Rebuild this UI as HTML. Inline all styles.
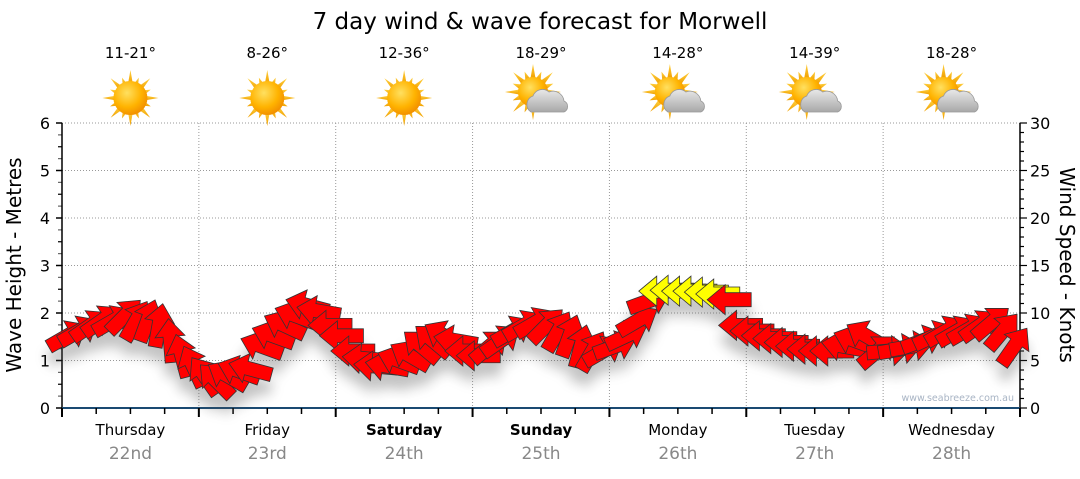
<!DOCTYPE html>
<html><head><meta charset="utf-8"><style>
body{margin:0;background:#fff;width:1080px;height:475px;overflow:hidden;font-family:"DejaVu Sans","Liberation Sans",sans-serif}
</style></head><body>
<svg id="chart" width="1080" height="475" viewBox="0 0 1080 475" xmlns="http://www.w3.org/2000/svg" style="font-family:'DejaVu Sans','Liberation Sans',sans-serif">
<defs>
<filter id="sh" x="-50%" y="-50%" width="200%" height="200%"><feGaussianBlur stdDeviation="6"/></filter>
<radialGradient id="sunG" cx="40%" cy="35%" r="70%"><stop offset="0" stop-color="#ffe060"/><stop offset="0.6" stop-color="#ffb300"/><stop offset="1" stop-color="#f08a00"/></radialGradient>
<linearGradient id="rayG" x1="0" y1="0" x2="0" y2="1"><stop offset="0" stop-color="#ffd040"/><stop offset="1" stop-color="#f0a000"/></linearGradient>
<linearGradient id="cloudG" x1="0" y1="0" x2="0" y2="1"><stop offset="0" stop-color="#e8e8e8"/><stop offset="1" stop-color="#a8a8a8"/></linearGradient>
</defs>
<text x="540" y="29" font-size="23" text-anchor="middle" fill="#000">7 day wind &amp; wave forecast for Morwell</text>
<g id="grid"></g>
<g id="axes"></g>
<g id="weather"></g>
<g id="shadows" filter="url(#sh)" opacity="0.35"></g>
<g id="arrows"></g>
<text x="1014" y="401" font-size="9.5" text-anchor="end" fill="#a8b4c4">www.seabreeze.com.au</text>
<text transform="translate(21,265) rotate(-90)" font-size="20" text-anchor="middle" fill="#000">Wave Height - Metres</text>
<text transform="translate(1060,265) rotate(90)" font-size="20" text-anchor="middle" fill="#000">Wind Speed - Knots</text>
</svg>
<script>
const days=["Thursday","Friday","Saturday","Sunday","Monday","Tuesday","Wednesday"];
const dates=["22nd","23rd","24th","25th","26th","27th","28th"];
const boldDays=[false,false,true,true,false,false,false];
const temps=["11-21°","8-26°","12-36°","18-29°","14-28°","14-39°","18-28°"];
const cloudy=[false,false,false,true,true,true,true];
const waveTicks=[0,1,2,3,4,5,6];
const windTicks=[0,5,10,15,20,25,30];
const windSpeed=[7.6,8.1,8.7,9.2,9.2,9.7,9.2,9.2,8.7,7.1,5.5,4.4,3.4,2.9,3.4,3.9,4.1,6.5,7.6,8.7,9.7,10.8,10.2,8.7,7.6,6.0,5.2,4.4,4.4,5.0,5.5,6.5,7.1,7.6,7.1,6.0,5.5,6.5,7.1,8.1,8.7,9.0,8.7,8.1,7.6,6.5,6.0,6.0,6.5,7.6,9.2,11.3,12.3,12.4,12.3,12.3,12.2,12.0,11.4,8.7,8.1,7.6,7.3,6.9,6.5,6.2,6.0,6.0,6.5,7.1,7.6,6.0,6.0,6.2,6.5,7.1,7.6,8.1,8.1,8.3,8.7,9.0,8.1,6.5];
const windDir=[-30,-30,-35,-35,-30,-45,-60,-70,-80,-95,-105,-115,-125,-135,-150,-160,-165,-160,-160,-155,-160,-165,-170,-180,-180,-180,-175,-175,-170,-160,-150,-140,-140,-150,-170,-180,-180,-40,-35,-30,-30,-30,-45,-60,-70,-75,-60,-30,-20,-25,-30,-20,180,180,180,180,180,180,180,180,180,180,180,180,180,180,180,180,-170,-160,-150,-40,-5,-10,-10,-20,-25,-30,-30,-30,-35,-40,-50,-55];
const X0=62,X1=1020,Y0=408,Y6=123;
const ns="http://www.w3.org/2000/svg";
function el(t,a,p){const e=document.createElementNS(ns,t);for(const k in a)e.setAttribute(k,a[k]);p.appendChild(e);return e;}
const yWave=v=>Y0-(v/6)*(Y0-Y6);
const yWind=v=>Y0-(v/30)*(Y0-Y6);
const dayW=(X1-X0)/7;
const xHour=h=>X0+h*(X1-X0)/168;
const grid=document.getElementById('grid'),axes=document.getElementById('axes'),wx=document.getElementById('weather');
waveTicks.forEach(v=>{
 if(v>0){const g=el('line',{x1:X0,x2:X1,y1:yWave(v),y2:yWave(v),stroke:'#999','stroke-dasharray':'1,2'},grid);
 
 }
 const t=el('text',{x:X0-12,y:yWave(v)+6,'font-size':16,'text-anchor':'end',fill:'#000'},axes);t.textContent=v;
 
 
});
for(let i=0;i<=24;i++){const y=Y0-i*(Y0-Y6)/24;el('line',{x1:X0-(i%4==0?6:4),x2:X0,y1:y,y2:y,stroke:i%2?'#666':'#000','stroke-width':i%4==0?1.5:1.2},axes);}
windTicks.forEach(v=>{
 const t=el('text',{x:X1+10,y:yWind(v)+6,'font-size':16,fill:'#000'},axes);t.textContent=v;
 
 
});
for(let i=0;i<=30;i++){const y=yWind(i);el('line',{x1:X1,x2:X1+(i%5==0?7:4),y1:y,y2:y,stroke:'#000','stroke-width':1.2},axes);}
el('line',{x1:X0,x2:X0,y1:Y6,y2:Y0,stroke:'#000','stroke-width':1.5},axes);
el('line',{x1:X1,x2:X1,y1:Y6,y2:Y0,stroke:'#000','stroke-width':1.5},axes);
el('line',{x1:X0,x2:X1,y1:Y0,y2:Y0,stroke:'#1a4a72','stroke-width':2},axes);
for(let h=0;h<=168;h+=6){const x=xHour(h);el('line',{x1:x,x2:x,y1:Y0,y2:Y0+(h%24==0?9:6),stroke:'#000','stroke-width':h%24==0?2:1.5},axes);}
days.forEach((d,i)=>{
 const cx=X0+dayW*(i+0.5);
 if(i>0){const g=el('line',{x1:X0+dayW*i,x2:X0+dayW*i,y1:Y6,y2:Y0,stroke:'#999','stroke-dasharray':'1,2'},grid);
 
 }
 const t=el('text',{x:cx,y:435,'font-size':15,'text-anchor':'middle',fill:'#000','font-weight':boldDays[i]?'bold':'normal'},axes);t.textContent=d;
 
 
 const t2=el('text',{x:cx,y:459,'font-size':17,'text-anchor':'middle',fill:'#888'},axes);t2.textContent=dates[i];
 
 
 const t3=el('text',{x:cx,y:58,'font-size':15,'text-anchor':'middle',fill:'#000'},wx);t3.textContent=temps[i];
 
 
 const g=el('g',{},wx);
 
 
 const sx=cloudy[i]?cx-8:cx, sy=cloudy[i]?92:98;
 for(let k=0;k<16;k++){const a=k*Math.PI/8,r=k%2?22:28,w=0.18;
  el('polygon',{points:`${sx+Math.cos(a)*r},${sy+Math.sin(a)*r} ${sx+Math.cos(a+w)*14},${sy+Math.sin(a+w)*14} ${sx+Math.cos(a-w)*14},${sy+Math.sin(a-w)*14}`,fill:'url(#rayG)'},g);}
 el('circle',{cx:sx,cy:sy,r:cloudy[i]?15:17,fill:'url(#sunG)'},g);
 if(cloudy[i]){el('path',{d:`M${cx-10},${sy+20} a9,9 0 0,1 2,-16 a10,10 0 0,1 16,-4 a11,11 0 0,1 15,9 a6,6 0 0,1 0,11 z`,fill:'url(#cloudG)',stroke:'#999','stroke-width':0.8},g);}
});
const arr=document.getElementById('arrows'),shd=document.getElementById('shadows');
const step=168/windSpeed.length;
const shape="M-22,-7 L4,-7 L4,-15 L22,0 L4,15 L4,7 L-22,7 Z";
windSpeed.forEach((v,i)=>{
 const x=xHour(step*(i+0.5)),y=yWind(v);
 el('path',{d:shape,transform:`translate(${x},${y+14}) rotate(${windDir[i]})`,fill:'#555'},shd);
 const p=el('path',{d:shape,transform:`translate(${x},${y}) rotate(${windDir[i]})`,fill:v>=12?'#ffff00':'#ff0000',stroke:'#333','stroke-width':0.8},arr);
 
 
});
</script>
</body></html>
